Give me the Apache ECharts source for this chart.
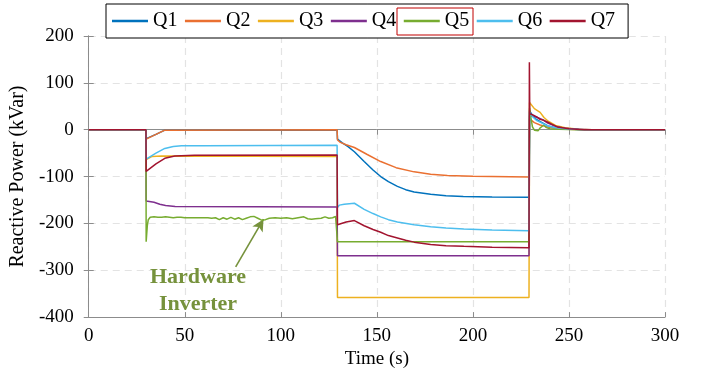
<!DOCTYPE html>
<html>
<head>
<meta charset="utf-8">
<script src="https://cdn.jsdelivr.net/npm/echarts@6/dist/echarts.min.js"></script>
<style>
  html, body { margin: 0; padding: 0; background: #fff; }
  #chart { width: 702px; height: 374px; }
</style>
</head>
<body>
<div id="chart"></div>
<script>
// Reactive power of seven inverters over a 300 s test: [time (s), kVar]
const seriesNames = ['Q1', 'Q2', 'Q3', 'Q4', 'Q5', 'Q6', 'Q7'];
const seriesColors = ['#0072BD', '#EA7031', '#EDB120', '#7E2F8E', '#77AC30', '#4DBEEE', '#A2142F'];

const q1 = [[0,0],[29.8,0],[29.9,-19],[35,-10],[39.6,-1],[129.3,-1],[129.5,-20],[130.5,-22],[132,-28],[135,-36],[138.3,-47],[143.4,-68],[148,-86],[152,-100],[156,-111],[160.7,-121],[165,-128],[169.4,-133],[178,-138],[186,-141],[195,-142.5],[210,-143.5],[229.2,-144],[229.5,41],[231,30],[233,22],[236,15],[239,8],[243,4],[248,2],[255,0.5],[300,0]];
const q2 = [[0,0],[29.8,0],[29.9,-20],[35,-10],[39.6,-1],[129.3,0],[129.5,-22],[131,-27],[134,-32],[138.3,-38],[145,-53],[152,-68],[160,-81],[169.4,-90],[178,-95],[186.7,-97.5],[200,-99.5],[229.2,-101],[229.5,23],[232,15],[235,10],[239,6],[244,3],[250,1],[258,0],[300,0]];
const q3 = [[0,0],[29.8,0],[29.9,-64],[33,-57],[38,-56],[129.3,-57],[129.5,-358],[229.2,-358],[229.5,58],[232,45],[235,37],[237,26],[239.4,17.5],[243,9],[248,4],[255,1],[262,0],[300,0]];
const q4 = [[0,0],[29.8,0],[29.9,-152],[34,-155],[37,-159],[40,-162],[45,-164],[129.3,-165],[129.5,-269],[229.2,-269],[229.5,30],[233,27],[236,22],[239,14],[243,7],[248,3],[255,1],[262,0],[300,0]];
const q5 = [[0,0],[29.8,0],[29.9,-239],[30.5,-205],[31,-192],[32,-187],[33,-190],[34,-186],[35,-190],[36,-187],[37,-191],[38,-187],[39,-190],[40,-186],[41,-190],[42,-187],[43,-191],[44,-188],[45,-191],[46,-187],[47,-190],[48,-187],[49,-191],[50,-188],[51,-191],[52,-188],[53,-191],[54,-188],[55,-192],[56,-188],[57,-191],[58,-188],[59,-192],[60,-188],[61,-191],[62,-188],[63,-192],[64,-189],[65,-191],[66,-188],[68,-192],[70,-188],[72,-191],[74,-187],[76,-191],[78,-188],[80,-192],[82,-189],[84,-186],[86,-185],[88,-189],[90,-193],[92,-192],[94,-189],[97,-188],[100,-189],[103,-188],[106,-190],[109,-188],[112,-186],[114,-190],[116,-191],[118,-190],[121,-189],[123,-186],[125,-189],[127,-188],[128.5,-185],[129.2,-189],[129.5,-239],[229.2,-239],[229.5,46],[230,30],[231,6],[232,-1],[233,-5],[234,-2],[235,4],[236,8],[237,10],[238,5],[240,2],[245,1],[255,0],[300,0]];
const q6 = [[0,0],[29.8,0],[29.9,-63],[35,-50],[39.6,-40],[44,-36],[48.3,-34.5],[60,-34],[129.3,-33],[129.5,-166],[130.5,-161],[133,-159],[138.3,-157],[143.4,-170],[148,-179],[152,-186],[156,-192],[160.7,-197],[169.4,-203],[178,-207],[186,-210],[195.3,-212],[210,-214],[229.2,-215.5],[229.5,37],[231,28],[233,20],[236,14],[239,8],[243,4],[250,1.5],[258,0],[300,0]];
const q7 = [[0,0],[29.8,0],[29.9,-89],[35,-73],[39.6,-61],[44.8,-56],[55,-54.5],[129.3,-54],[129.5,-203],[130.5,-200],[134,-197],[138.3,-194],[143.4,-205],[148,-213],[152,-219],[156,-226],[160.7,-231],[165,-236],[169.4,-240],[178,-245],[186,-247.5],[195.3,-249],[210,-251],[229.2,-252],[229.4,144],[229.6,34],[231,32],[233,28],[235,22],[237,20],[239,16],[241,12],[244,6],[250,2],[258,0],[300,0]];
const seriesData = [q1, q2, q3, q4, q5, q6, q7];

// Axis ranges and ticks
const xTicks = { min: 0, max: 300, step: 50 };
const yTicks = { min: -400, max: 200, step: 100 };

// Annotation arrow pointing at the hardware inverter trace (Q5)
const arrowFrom = [76.5, -293];
const arrowTo = [91, -191];

const font = 'Liberation Serif, Times New Roman, serif';
const frameColor = '#8c8c8c';
const noteColor = '#76923C';

const chart = echarts.init(document.getElementById('chart'), null, { renderer: 'canvas' });

const series = seriesNames.map((name, i) => ({
  name,
  type: 'line',
  data: seriesData[i],
  xAxisIndex: 0,
  yAxisIndex: 0,
  symbol: 'none',
  lineStyle: { color: seriesColors[i], width: 1.5 },
  itemStyle: { color: seriesColors[i] },
  emphasis: { disabled: true },
  z: 2 + i
}));

series[4].markLine = {
  silent: true,
  symbol: ['none', 'arrow'],
  symbolSize: [9, 12],
  label: { show: false },
  lineStyle: { color: noteColor, width: 1.6, type: 'solid' },
  data: [[{ coord: arrowFrom }, { coord: arrowTo }]]
};

const hiddenAxisCommon = {
  axisLabel: { show: false },
  axisTick: { inside: true, length: 5, lineStyle: { color: frameColor } },
  axisLine: { lineStyle: { color: frameColor } },
  splitLine: { show: false }
};

chart.setOption({
  animation: false,
  backgroundColor: '#ffffff',
  textStyle: { fontFamily: font },
  grid: { left: 87, top: 36, width: 578, height: 285, containLabel: false },
  legend: {
    data: seriesNames,
    left: 106,
    top: 4,
    orient: 'horizontal',
    icon: 'rect',
    itemWidth: 36,
    itemHeight: 2.5,
    itemGap: 7.5,
    padding: [7, 13, 7, 6],
    borderColor: '#000000',
    borderWidth: 1,
    backgroundColor: '#ffffff',
    selectedMode: false,
    textStyle: { fontFamily: font, fontSize: 20, color: '#000', padding: [2, 0, 0, 0] }
  },
  xAxis: [
    {
      type: 'value',
      min: xTicks.min, max: xTicks.max, interval: xTicks.step,
      name: 'Time (s)',
      nameLocation: 'middle',
      nameGap: 32,
      nameTextStyle: { fontFamily: font, fontSize: 19, color: '#000' },
      axisLabel: { fontFamily: font, fontSize: 19, color: '#000', margin: 9 },
      axisTick: { inside: true, length: 5, lineStyle: { color: frameColor } },
      axisLine: { onZero: false, lineStyle: { color: frameColor } },
      splitLine: { show: true, lineStyle: { color: '#e3e3e3', width: 1.2, type: [7, 5] } }
    },
    Object.assign({ type: 'value', position: 'top', min: xTicks.min, max: xTicks.max, interval: xTicks.step }, hiddenAxisCommon)
  ],
  yAxis: [
    {
      type: 'value',
      min: yTicks.min, max: yTicks.max, interval: yTicks.step,
      name: 'Reactive Power (kVar)',
      nameLocation: 'middle',
      nameGap: 52,
      nameRotate: 90,
      nameTextStyle: { fontFamily: font, fontSize: 20, color: '#000' },
      axisLabel: { fontFamily: font, fontSize: 19, color: '#000', margin: 15 },
      axisTick: { inside: true, length: 5, lineStyle: { color: frameColor } },
      axisLine: { show: true, onZero: false, lineStyle: { color: frameColor } },
      splitLine: { show: true, lineStyle: { color: '#e3e3e3', width: 1.2, type: [7, 5] } }
    },
    Object.assign({ type: 'value', position: 'right', min: yTicks.min, max: yTicks.max, interval: yTicks.step }, hiddenAxisCommon)
  ],
  series,
  graphic: [
    {
      type: 'rect',
      shape: { x: 397, y: 8, width: 76, height: 27 },
      style: { fill: 'none', stroke: '#C00000', lineWidth: 1 },
      z: 100
    },
    {
      type: 'text',
      x: 198, y: 277,
      style: {
        text: 'Hardware',
        fill: noteColor,
        font: 'bold 22px ' + font,
        textAlign: 'center',
        textVerticalAlign: 'middle'
      },
      z: 100
    },
    {
      type: 'text',
      x: 198, y: 304,
      style: {
        text: 'Inverter',
        fill: noteColor,
        font: 'bold 22px ' + font,
        textAlign: 'center',
        textVerticalAlign: 'middle'
      },
      z: 100
    }
  ]
});
</script>
</body>
</html>
